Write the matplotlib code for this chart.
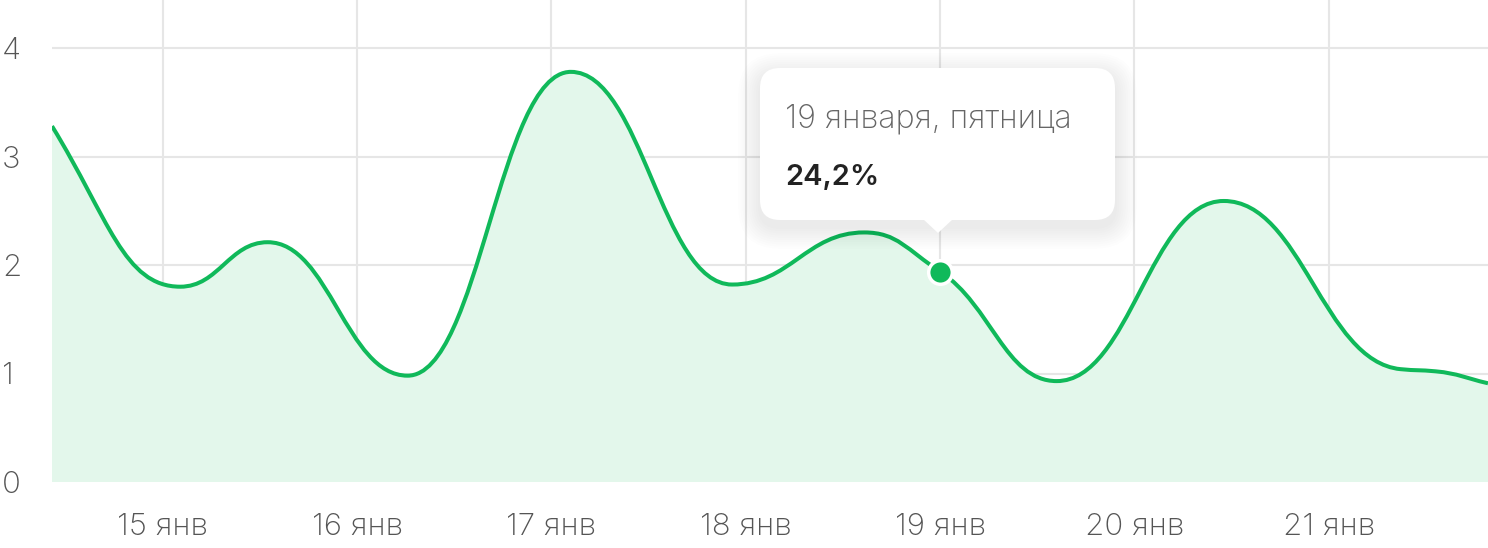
"""
Area chart with smoothed line and tooltip (January, one week)
"""

import numpy as np
import matplotlib
matplotlib.use('Agg')
import matplotlib.pyplot as plt
from matplotlib.path import Path
from matplotlib.patches import PathPatch, FancyBboxPatch, Polygon

plt.rcParams['font.family'] = ['Inter', 'DejaVu Sans']

# ---------------------------------------------
# data
# ---------------------------------------------
days = [14.43, 15.09, 15.54, 16.26, 17.10, 17.93, 18.61, 19.00, 19.60, 20.46, 21.37, 21.55, 21.82]
values = [3.28, 1.80, 2.21, 0.98, 3.78, 1.82, 2.30, 1.94, 0.93, 2.59, 1.04, 1.02, 0.91]

tick_days = [15, 16, 17, 18, 19, 20, 21]
tick_labels = ['15 янв', '16 янв', '17 янв', '18 янв', '19 янв', '20 янв', '21 янв']
y_ticks = [0, 1, 2, 3, 4]

hl_day = 19.00
hl_value = 1.94
tooltip_date = '19 января, пятница'
tooltip_value = '24,2%'

GREEN = '#10b95a'
FILL = '#e3f7eb'
GRID = '#e6e6e6'
TXT = '#555555'


def tangents(x, y):
    # monotone (Fritsch-Carlson) tangents
    x = np.asarray(x, float)
    y = np.asarray(y, float)
    h = np.diff(x)
    d = np.diff(y) / h
    m = np.zeros_like(y)
    m[0] = d[0] * 1.3
    m[-1] = d[-1]
    for k in range(1, len(y) - 1):
        if d[k-1] * d[k] <= 0:
            m[k] = 0.0
        else:
            w1 = 2*h[k] + h[k-1]
            w2 = h[k] + 2*h[k-1]
            m[k] = (w1 + w2) / (w1/d[k-1] + w2/d[k])
    return m


def bezier_verts(x, y, a=0.44):
    m = tangents(x, y)
    verts = [(x[0], y[0])]
    codes = [Path.MOVETO]
    for k in range(len(x) - 1):
        dx = x[k+1] - x[k]
        verts += [(x[k] + a*dx, y[k] + a*dx*m[k]),
                  (x[k+1] - a*dx, y[k+1] - a*dx*m[k+1]),
                  (x[k+1], y[k+1])]
        codes += [Path.CURVE4]*3
    return verts, codes


W, H = 1488, 548
fig = plt.figure(figsize=(W/100, H/100), dpi=100)
ax = fig.add_axes([52/W, (H-482)/H, (W-52)/W, 482/H])

ax.set_xlim(days[0], days[-1])
ax.set_ylim(0, 482/108.5)

# grid
ax.set_xticks(tick_days)
ax.set_xticklabels(tick_labels)
ax.set_yticks(y_ticks)
ax.grid(True, color=GRID, lw=1.5, zorder=0)
ax.set_axisbelow(True)
for s in ax.spines.values():
    s.set_visible(False)
ax.tick_params(length=0, colors=TXT, labelsize=22.5)
ax.tick_params(axis='x', pad=22)
ax.tick_params(axis='y', pad=36)
for lab in ax.get_yticklabels():
    lab.set_ha('left')
for lab in ax.get_xticklabels() + ax.get_yticklabels():
    lab.set_fontweight('light')

# area + line
verts, codes = bezier_verts(days, values)
fill_verts = verts + [(days[-1], 0), (days[0], 0), (days[0], values[0])]
fill_codes = codes + [Path.LINETO, Path.LINETO, Path.CLOSEPOLY]
ax.add_patch(PathPatch(Path(fill_verts, fill_codes), facecolor=FILL,
                       edgecolor='none', zorder=2))
ax.add_patch(PathPatch(Path(verts, codes), facecolor='none', edgecolor=GREEN,
                       lw=2.9, capstyle='butt', zorder=3))

# highlighted point
ax.plot([hl_day], [hl_value], 'o', ms=17, color=GREEN, mec='white', mew=2.5,
        zorder=6, clip_on=False)

# tooltip (pixel layout)
def px(x, y):
    return x/W, 1 - y/H

bx0, by0, bx1, by1 = 760, 68, 1115, 220
tip_x = 938
for i in range(10):
    g = 2 + i*2.2
    sh = FancyBboxPatch(px(bx0 - g, by1 + g + 7), (bx1 - bx0 + 2*g)/W,
                        (by1 - by0 + 2*g)/H,
                        boxstyle='round,pad=0,rounding_size=%f' % ((20 + g)/W),
                        transform=fig.transFigure, facecolor='black',
                        edgecolor='none', alpha=0.009, zorder=7,
                        mutation_aspect=W/H)
    fig.add_artist(sh)
box = FancyBboxPatch(px(bx0, by1), (bx1 - bx0)/W, (by1 - by0)/H,
                     boxstyle='round,pad=0,rounding_size=%f' % (20/W),
                     transform=fig.transFigure, facecolor='white',
                     edgecolor='none', zorder=8, mutation_aspect=W/H)
fig.add_artist(box)
tri = Polygon([px(tip_x - 15, by1 - 1), px(tip_x + 15, by1 - 1), px(tip_x, 233)],
              closed=True, transform=fig.transFigure, facecolor='white',
              edgecolor='none', zorder=8)
fig.add_artist(tri)

fig.text(*px(785, 127), tooltip_date, fontsize=23.2, color='#666666',
         fontweight='light', va='baseline', ha='left', zorder=9)
fig.text(*px(785, 185), tooltip_value, fontsize=21, color='#222222',
         fontweight='semibold', va='baseline', ha='left', zorder=9)

plt.savefig('out.png', dpi=100)
